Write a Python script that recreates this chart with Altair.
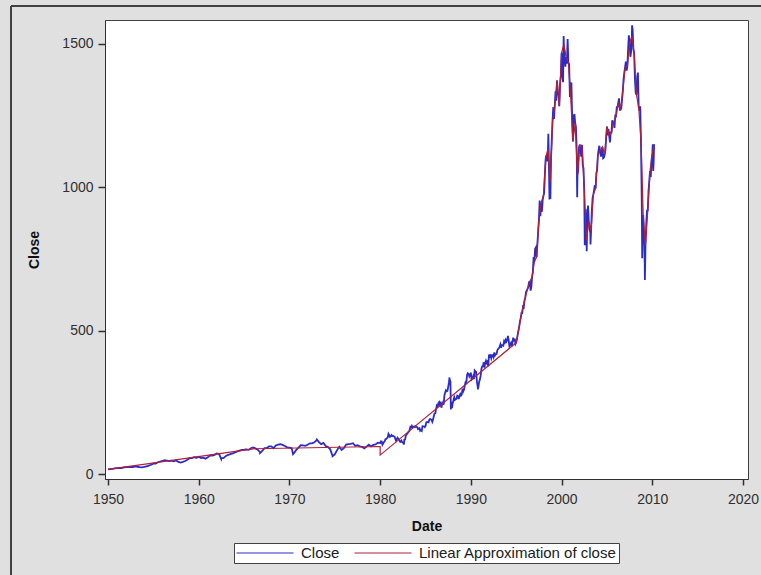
import altair as alt
import pandas as pd

# ---------------- data ----------------
# S&P 500 close, 1950-1979: start value then quarter-end closes
early_start_year = 1950
early_first_close = 16.66
early_quarterly_close = [
    17.29, 17.69, 19.45, 20.41,   # 1950
    21.48, 20.96, 23.26, 23.77,   # 1951
    24.37, 24.96, 24.54, 26.57,   # 1952
    25.29, 24.14, 23.35, 24.81,   # 1953
    26.94, 29.21, 32.31, 35.98,   # 1954
    36.58, 41.03, 43.67, 45.48,   # 1955
    48.48, 46.97, 45.35, 46.67,   # 1956
    44.11, 47.37, 42.42, 39.99,   # 1957
    42.10, 45.24, 50.06, 55.21,   # 1958
    55.44, 58.47, 56.88, 59.89,   # 1959
    55.34, 56.92, 53.52, 58.11,   # 1960
    65.06, 64.64, 66.73, 71.55,   # 1961
    69.55, 54.75, 56.27, 63.10,   # 1962
    66.57, 69.37, 71.70, 75.02,   # 1963
    78.98, 81.69, 84.18, 84.75,   # 1964
    86.16, 84.12, 89.96, 92.43,   # 1965
    89.23, 84.74, 76.56, 80.33,   # 1966
    90.20, 90.64, 96.71, 96.47,   # 1967
    90.20, 99.58, 102.67, 103.86, # 1968
    101.51, 97.71, 93.12, 92.06,  # 1969
    89.63, 72.72, 84.21, 92.15,   # 1970
    100.31, 99.70, 98.34, 102.09, # 1971
    107.20, 107.14, 110.55, 118.05, # 1972
    111.52, 104.26, 108.43, 97.55,  # 1973
    93.98, 86.00, 63.54, 68.56,   # 1974
    83.36, 95.19, 83.87, 90.19,   # 1975
    102.77, 104.28, 105.24, 107.46, # 1976
    98.42, 100.48, 96.53, 95.10,  # 1977
    89.21, 95.53, 102.54, 96.11,  # 1978
    101.59, 102.91, 109.32, 107.94, # 1979
]

# S&P 500 month-end close, Jan 1980 - Feb 2010
monthly_start_year = 1980
monthly_close = [
    114.16, 113.66, 102.09, 106.29, 111.24, 114.24, 121.67, 122.38, 125.46, 127.47, 140.52, 135.76,
    129.55, 131.27, 136.00, 132.81, 132.59, 131.21, 130.92, 122.79, 116.18, 121.89, 126.35, 122.55,
    120.40, 113.11, 111.96, 116.44, 111.88, 109.61, 107.09, 119.51, 120.42, 133.71, 138.54, 140.64,
    145.30, 148.06, 152.96, 164.42, 162.39, 168.11, 162.56, 164.40, 166.07, 163.55, 166.40, 164.93,
    163.41, 157.06, 159.18, 160.05, 150.55, 153.18, 150.66, 166.68, 166.10, 166.09, 163.58, 167.24,
    179.63, 181.18, 180.66, 179.83, 189.55, 191.85, 190.92, 188.63, 182.08, 189.82, 202.17, 211.28,
    211.78, 226.92, 238.90, 235.52, 247.35, 250.84, 236.12, 252.93, 231.32, 243.98, 249.22, 242.17,
    274.08, 284.20, 291.70, 288.36, 290.10, 304.00, 318.66, 329.80, 321.83, 251.79, 230.30, 247.08,
    257.07, 267.82, 258.89, 261.33, 262.16, 273.50, 272.02, 261.52, 271.91, 278.97, 273.70, 277.72,
    297.47, 288.86, 294.87, 309.64, 320.52, 317.98, 346.08, 351.45, 349.15, 340.36, 345.99, 353.40,
    329.08, 331.89, 339.94, 330.80, 361.23, 358.02, 356.15, 322.56, 306.05, 304.00, 322.22, 330.22,
    343.93, 367.07, 375.22, 375.34, 389.83, 371.16, 387.81, 395.43, 387.86, 392.46, 375.22, 417.09,
    408.79, 412.70, 403.69, 414.95, 415.35, 408.14, 424.21, 414.03, 417.80, 418.68, 431.35, 435.71,
    438.78, 443.38, 451.67, 440.19, 450.19, 450.53, 448.13, 463.56, 458.93, 467.83, 461.79, 466.45,
    481.61, 467.14, 445.77, 450.91, 456.50, 444.27, 458.26, 475.49, 462.69, 472.35, 453.69, 459.27,
    470.42, 487.39, 500.71, 514.71, 533.40, 544.75, 562.06, 561.88, 584.41, 581.50, 605.37, 615.93,
    636.02, 640.43, 645.50, 654.17, 669.12, 670.63, 639.95, 651.99, 687.33, 705.27, 757.02, 740.74,
    786.16, 790.82, 757.12, 801.34, 848.28, 885.14, 954.29, 899.47, 947.28, 914.62, 955.40, 970.43,
    980.28, 1049.34, 1101.75, 1111.75, 1090.82, 1133.84, 1120.67, 957.28, 1017.01, 1098.67, 1163.63, 1229.23,
    1279.64, 1238.33, 1286.37, 1335.18, 1301.84, 1372.71, 1328.72, 1320.41, 1282.71, 1362.93, 1388.91, 1469.25,
    1394.46, 1366.42, 1498.58, 1452.43, 1420.60, 1454.60, 1430.83, 1517.68, 1436.51, 1429.40, 1314.95, 1320.28,
    1366.01, 1239.94, 1160.33, 1249.46, 1255.82, 1224.38, 1211.23, 1133.58, 1040.94, 1059.78, 1139.45, 1148.08,
    1130.20, 1106.73, 1147.39, 1076.92, 1067.14, 989.82, 911.62, 916.07, 815.28, 885.76, 936.31, 879.82,
    855.70, 841.15, 848.18, 916.92, 963.59, 974.50, 990.31, 1008.01, 995.97, 1050.71, 1058.20, 1111.92,
    1131.13, 1144.94, 1126.21, 1107.30, 1120.68, 1140.84, 1101.72, 1104.24, 1114.58, 1130.20, 1173.82, 1211.92,
    1181.27, 1203.60, 1180.59, 1156.85, 1191.50, 1191.33, 1234.18, 1220.33, 1228.81, 1207.01, 1249.48, 1248.29,
    1280.08, 1280.66, 1294.83, 1310.61, 1270.09, 1270.20, 1276.66, 1303.82, 1335.85, 1377.94, 1400.63, 1418.30,
    1438.24, 1406.82, 1420.86, 1482.37, 1530.62, 1503.35, 1455.27, 1473.99, 1526.75, 1549.38, 1481.14, 1468.36,
    1378.55, 1330.63, 1322.70, 1385.59, 1400.38, 1280.00, 1267.38, 1282.83, 1166.36, 968.75, 896.24, 903.25,
    825.88, 735.09, 797.87, 872.81, 919.14, 919.32, 987.48, 1020.62, 1057.08, 1036.19, 1095.63, 1115.10,
    1073.87, 1104.49,
]

# notable daily closes (extremes visible in the chart)
daily_dates = ["1962-06-26", "1966-10-07", "1970-05-26", "1973-01-11", "1974-10-03",
               "1982-08-12", "1987-08-25", "1987-10-19", "1990-10-11", "1998-07-17",
               "1998-10-08", "2000-03-24", "2001-09-21", "2002-07-23", "2002-10-09",
               "2003-03-11", "2007-10-09", "2008-11-20", "2009-03-09", "2010-01-19",
               "2010-02-08", "2010-03-15"]
daily_close = [52.32, 73.20, 69.29, 120.24, 62.28,
               102.42, 336.77, 224.84, 295.46, 1186.75,
               959.44, 1527.46, 965.80, 797.70, 776.76,
               800.73, 1565.15, 752.44, 676.53, 1150.23,
               1056.74, 1150.51]

# linear approximation of close (knots)
approx_year = [1950.0, 1966.0, 1980.0, 1980.0, 1995.0,
               1995.25, 1995.5, 1995.75, 1996.0, 1996.25, 1996.5, 1996.75, 1997.0,
               1997.25, 1997.5, 1997.75, 1998.0, 1998.25, 1998.5, 1998.75, 1999.0,
               1999.25, 1999.5, 1999.75, 2000.0, 2000.25, 2000.5, 2000.75, 2001.0,
               2001.25, 2001.5, 2001.75, 2002.0, 2002.25, 2002.5, 2002.75, 2003.0,
               2003.25, 2003.5, 2003.75, 2004.0, 2004.25, 2004.5, 2004.75, 2005.0,
               2005.25, 2005.5, 2005.75, 2006.0, 2006.25, 2006.5, 2006.75, 2007.0,
               2007.25, 2007.5, 2007.75, 2008.0, 2008.25, 2008.5, 2008.75, 2009.0,
               2009.25, 2009.5, 2009.75, 2010.0, 2010.2]
approx_value = [16.0, 88.0, 96.0, 66.0, 458.0,
                501, 545, 584, 616, 646, 671, 687, 741,
                757, 885, 947, 970, 1102, 1134, 1017, 1229,
                1286, 1373, 1283, 1469, 1499, 1455, 1437, 1320,
                1160, 1224, 1041, 1148, 1147, 990, 815, 880,
                848, 975, 996, 1112, 1126, 1141, 1115, 1212,
                1181, 1191, 1229, 1248, 1295, 1270, 1336, 1418,
                1421, 1503, 1527, 1468, 1323, 1280, 1166, 903,
                798, 919, 1057, 1115, 1150]

series_names = ["Close", "Linear Approximation of close"]
series_colors = ["#2B2BC8", "#B0203A"]

# ---------------- build tables ----------------
rows = [(float(early_start_year), early_first_close)]
for i, v in enumerate(early_quarterly_close):
    rows.append((early_start_year + (i + 1) * 0.25, v))
for i, v in enumerate(monthly_close):
    rows.append((monthly_start_year + (i + 1) / 12.0, v))
for d, v in zip(daily_dates, daily_close):
    t = pd.Timestamp(d)
    rows.append((t.year + (t.dayofyear - 1) / 365.25, v))
close_df = pd.DataFrame(rows, columns=["year", "value"]).sort_values("year").reset_index(drop=True)
close_df["idx"] = range(len(close_df))
close_df["series"] = series_names[0]

approx_df = pd.DataFrame({"year": approx_year, "value": approx_value})
approx_df["idx"] = range(len(approx_df))
approx_df["series"] = series_names[1]

# ---------------- chart ----------------
PLOT_W, PLOT_H = 643, 459
LEFT, TOP = 105, 20

x_scale = alt.Scale(domain=[1949.67, 2020.55], nice=False, zero=False)
y_scale = alt.Scale(domain=[-17.4, 1583.7], nice=False, zero=False)
color_scale = alt.Scale(domain=series_names, range=series_colors)

x_enc = alt.X("year:Q", scale=x_scale,
              axis=alt.Axis(title="Date", values=[1950, 1960, 1970, 1980, 1990, 2000, 2010, 2020],
                            format="d", grid=False, tickSize=6, labelPadding=7,
                            titlePadding=13))
y_enc = alt.Y("value:Q", scale=y_scale,
              axis=alt.Axis(title="Close", values=[0, 500, 1000, 1500], format="d",
                            grid=False, tickSize=7, labelPadding=5, titlePadding=20))

legend = alt.Legend(title=None, orient="none", legendX=129, legendY=523,
                    direction="horizontal", symbolType="stroke", symbolSize=3249,
                    symbolStrokeWidth=1, labelFontSize=15, labelOffset=7,
                    columnPadding=14, padding=2, clipHeight=16, labelLimit=400,
                    fillColor="white", strokeColor="#404040", labelColor="#202020")

close_line = alt.Chart(close_df).mark_line(strokeWidth=1.8, clip=True).encode(
    x=x_enc, y=y_enc, order="idx:Q",
    color=alt.Color("series:N", scale=color_scale, legend=legend),
)
approx_line = alt.Chart(approx_df).mark_line(strokeWidth=1.2, clip=True).encode(
    x="year:Q", y="value:Q", order="idx:Q",
    color=alt.Color("series:N", scale=color_scale, legend=legend),
)

frame_top = alt.Chart(close_df).mark_rule(color="#404040", strokeWidth=1).encode(
    x=alt.value(-94), x2=alt.value(700), y=alt.value(-14))
frame_left = alt.Chart(close_df).mark_rule(color="#404040", strokeWidth=1).encode(
    x=alt.value(-94), y=alt.value(-14), y2=alt.value(600))

chart = alt.layer(frame_top, frame_left, close_line, approx_line).properties(
    width=PLOT_W, height=PLOT_H,
    padding={"left": LEFT, "top": TOP, "right": 761 - LEFT - PLOT_W, "bottom": 575 - TOP - PLOT_H},
    autosize=alt.AutoSizeParams(type="none"),
    background="#E0E0E0",
).configure_view(
    stroke="#404040", strokeWidth=1, fill="white"
).configure_axis(
    labelFont="Liberation Sans", labelFontSize=14, labelColor="#303030",
    titleFont="Liberation Sans", titleFontSize=14, titleFontWeight="bold", titleColor="#101010",
    tickColor="#303030", domainColor="#303030", tickWidth=1.5,
).configure_legend(
    labelFont="Liberation Sans"
)

chart.save("out.html", embed_options={"renderer": "svg", "actions": False})
